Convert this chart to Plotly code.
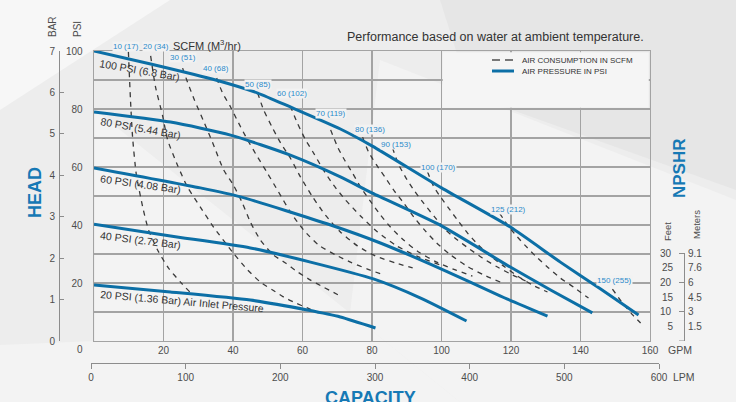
import plotly.graph_objects as go

# ---------------- data ----------------
gpm_tick_values = [20, 40, 60, 80, 100, 120, 140, 160]
psi_tick_values = [20, 40, 60, 80, 100]
bar_tick_values = [0, 1, 2, 3, 4, 5, 6, 7]
lpm_tick_values = [0, 100, 200, 300, 400, 500, 600]
feet_tick_values = [10, 20, 30]
feet_half_values = [5, 15, 25]
npshr_feet_values = [5, 10, 15, 20, 25, 30]
npshr_meter_text = ["1.5", "3", "4.5", "6", "7.6", "9.1"]

# air pressure curves (GPM vs head in PSI)
psi100_gpm = [0, 16.3, 35.0, 47.1, 56.5, 70.9, 80.1, 100.0, 119.8, 134.2, 145.8, 156.7]
psi100_head = [100, 95.5, 90.0, 85.5, 80.7, 73.1, 67.2, 52.8, 39.3, 27.2, 17.9, 9.0]
psi80_gpm = [0, 22.0, 39.3, 56.5, 70.9, 80.1, 100.0, 119.8, 131.4, 143.4]
psi80_head = [79.0, 75.5, 71.0, 64.1, 56.6, 51.0, 39.7, 25.5, 17.6, 9.7]
psi60_gpm = [0, 30.6, 42.2, 68.1, 82.4, 100.0, 117.0, 130.5]
psi60_head = [59.7, 52.8, 49.7, 40.0, 33.8, 24.8, 15.5, 8.6]
psi40_gpm = [0, 22.0, 45.0, 62.3, 80.4, 94.0, 107.2]
psi40_head = [40.3, 36.2, 32.1, 27.2, 21.4, 14.8, 6.9]
psi20_gpm = [0, 22.0, 45.0, 61.4, 70.9, 81.0]
psi20_head = [19.3, 16.9, 14.1, 10.7, 8.3, 4.5]

pressure_names = ["100 PSI (6.8 Bar)", "80 PSI (5.44 Bar)", "60 PSI (4.08 Bar)",
                  "40 PSI (2.72 Bar)", "20 PSI (1.36 Bar) Air Inlet Pressure"]

# air consumption lines (SCFM)
scfm10_gpm = [9.9, 10.5, 11.1, 12.2, 14.2, 15.7, 18.3, 21.4, 24.9, 27.8]
scfm10_head = [99.7, 83.1, 70.3, 57.2, 45.2, 38.3, 31.4, 25.2, 20.3, 16.6]
scfm20_gpm = [16.3, 17.7, 19.7, 21.2, 24.0, 26.9, 30.6, 34.4, 40.1, 44.2, 47.9, 51.4, 54.5, 58.0, 61.4, 64.6]
scfm20_head = [98.3, 87.6, 77.9, 69.3, 60.7, 53.1, 46.2, 39.3, 30.3, 24.5, 20.3, 17.6, 15.2, 13.1, 11.4, 9.7]
scfm30_gpm = [25.5, 26.9, 28.9, 31.4, 34.4, 37.3, 40.1, 42.7, 45.0, 47.9, 51.6, 55.1, 58.6, 62.3, 66.0, 70.9]
scfm30_head = [94.1, 89.3, 83.1, 76.2, 67.6, 59.0, 53.8, 47.6, 41.0, 34.8, 29.7, 26.9, 23.8, 21.0, 18.6, 15.5]
scfm40_gpm = [35.3, 37.0, 39.3, 41.6, 44.2, 47.1, 49.9, 53.1, 56.5, 60.3, 64.6, 69.5, 73.8, 78.7, 83.3]
scfm40_head = [90.7, 85.5, 80.7, 75.2, 69.3, 63.4, 57.9, 51.4, 44.5, 38.3, 33.1, 29.7, 27.2, 24.8, 22.8]
scfm50_gpm = [47.1, 48.8, 51.4, 53.7, 56.5, 59.4, 62.9, 66.6, 70.9, 75.8, 81.0, 86.8, 91.7]
scfm50_head = [85.5, 79.7, 73.4, 68.3, 63.1, 56.6, 49.7, 43.4, 37.6, 32.8, 29.3, 26.9, 25.2]
scfm60_gpm = [56.5, 58.5, 60.9, 63.2, 66.0, 68.9, 72.4, 76.7, 81.6, 87.1, 93.4, 99.7]
scfm60_head = [81.0, 75.2, 69.3, 64.8, 59.0, 53.8, 48.6, 43.1, 37.6, 32.8, 29.0, 26.2]
scfm70_gpm = [68.1, 70.1, 72.1, 74.4, 76.7, 79.3, 82.2, 85.3, 89.1, 93.4, 98.6, 104.0, 108.9]
scfm70_head = [72.8, 66.9, 62.4, 57.9, 53.1, 48.6, 43.8, 39.3, 34.8, 30.7, 27.2, 24.5, 22.4]
scfm80_gpm = [77.3, 79.0, 81.3, 83.9, 86.2, 89.1, 92.0, 95.1, 98.6, 102.6, 107.2, 112.1, 117.0]
scfm80_head = [70.3, 65.2, 60.7, 56.2, 52.1, 47.6, 42.8, 38.3, 33.8, 29.7, 25.9, 22.8, 20.3]
scfm90_gpm = [85.9, 87.6, 89.6, 92.0, 94.8, 98.0, 101.2, 104.6, 108.1, 111.8, 116.1, 120.4, 124.2]
scfm90_head = [66.6, 61.0, 56.6, 52.1, 47.6, 42.8, 38.3, 34.8, 31.7, 28.6, 25.5, 22.8, 20.7]
scfm100_gpm = [96.0, 97.7, 99.7, 102.0, 104.6, 107.5, 110.6, 114.1, 117.8, 121.9, 126.2, 130.5]
scfm100_head = [58.3, 53.4, 49.7, 45.9, 41.7, 37.2, 33.1, 29.3, 25.9, 22.4, 19.3, 16.9]
scfm125_gpm = [116.7, 119.0, 121.3, 124.2, 127.3, 130.8, 134.2, 138.0, 142.3]
scfm125_head = [44.1, 40.0, 36.6, 32.8, 29.0, 25.2, 21.7, 18.6, 14.8]
scfm150_gpm = [149.2, 152.1, 155.0, 157.3]
scfm150_head = [17.9, 13.1, 9.0, 6.2]

scfm_labels = ["10 (17)", "20 (34)", "30 (51)", "40 (68)", "50 (85)", "60 (102)",
               "70 (119)", "80 (136)", "90 (153)", "100 (170)", "125 (212)", "150 (255)"]
# label anchor points (GPM, PSI)
scfm_label_gpm = [9.1, 17.7, 25.5, 35.0, 47.1, 57.1, 68.1, 79.3, 86.8, 99.1, 119.3, 149.8]
scfm_label_psi = [101.7, 101.7, 97.6, 94.1, 88.6, 85.2, 78.6, 72.8, 67.6, 60.0, 45.5, 21.0]

# ---------------- layout helpers ----------------
W, H = 736, 402
ML, MR, MT, MB = 40, 40, 51, 30
PW = W - ML - MR
PH = H - MT - MB
PB = H - MB
X0_PX, X1_PX = 94, 650      # main plot left/right in pixels
Y0_PX, Y1_PX = 341, 51      # main plot bottom/top in pixels
GPM_MAX, PSI_MAX = 160, 100


def px(x, y):
    return (x - ML) / PW, (PB - y) / PH


def data_to_paper(g, p):
    xpix = X0_PX + g / GPM_MAX * (X1_PX - X0_PX)
    ypix = Y0_PX - p / PSI_MAX * (Y0_PX - Y1_PX)
    return px(xpix, ypix)


def dom_x(a, b):
    return [(a - ML) / PW, (b - ML) / PW]


def dom_y(top, bottom):
    return [(PB - bottom) / PH, (PB - top) / PH]


BLUE = "#0c6fa6"
LBLUE = "#2b8bcb"
HBLUE = "#1679b5"
DARK = "#333333"
GRID = "#a3a3a3"
AX = "#8c8c8c"
TXT = "#4d4d4d"
FONT = "Liberation Sans, Arial, sans-serif"

fig = go.Figure()

pressure_series = [(psi100_gpm, psi100_head), (psi80_gpm, psi80_head), (psi60_gpm, psi60_head),
                   (psi40_gpm, psi40_head), (psi20_gpm, psi20_head)]
scfm_series = [(scfm10_gpm, scfm10_head), (scfm20_gpm, scfm20_head), (scfm30_gpm, scfm30_head),
               (scfm40_gpm, scfm40_head), (scfm50_gpm, scfm50_head), (scfm60_gpm, scfm60_head),
               (scfm70_gpm, scfm70_head), (scfm80_gpm, scfm80_head), (scfm90_gpm, scfm90_head),
               (scfm100_gpm, scfm100_head), (scfm125_gpm, scfm125_head), (scfm150_gpm, scfm150_head)]

for gx, gy in scfm_series:
    fig.add_trace(go.Scatter(x=gx, y=gy, mode="lines", showlegend=False, hoverinfo="skip",
                             line=dict(color="#3a3a3a", width=1.3, dash="5px,5px",
                                       shape="spline", smoothing=0.6)))
for gx, gy in pressure_series:
    fig.add_trace(go.Scatter(x=gx, y=gy, mode="lines", showlegend=False, hoverinfo="skip",
                             line=dict(color=BLUE, width=3, shape="spline", smoothing=0.6)))

# dummy traces so the auxiliary axes are drawn
for xa, ya in [("x", "y2"), ("x2", "y3"), ("x2", "y4"), ("x2", "y5")]:
    fig.add_trace(go.Scatter(x=[None], y=[None], xaxis=xa, yaxis=ya, showlegend=False,
                             hoverinfo="skip", mode="lines"))

tickfont = dict(family=FONT, size=10, color=TXT)
common = dict(automargin=False, zeroline=False, showgrid=False, tickfont=tickfont)
gridminor = dict(dtick=10, tick0=0, showgrid=True, gridcolor=GRID, gridwidth=1.3, ticks="")

fig.update_layout(
    width=W, height=H,
    margin=dict(l=ML, r=MR, t=MT, b=MB, pad=0, autoexpand=False),
    paper_bgcolor="#ededed",
    plot_bgcolor="rgba(0,0,0,0)",
    font=dict(family=FONT, color=DARK),
    showlegend=False,
    hovermode=False,
    xaxis=dict(common, domain=dom_x(X0_PX, X1_PX), range=[0, GPM_MAX], anchor="y",
               tickmode="array", tickvals=gpm_tick_values, ticks="",
               showgrid=True, gridcolor=GRID, gridwidth=1.3,
               showline=True, mirror=True, linecolor=GRID, linewidth=1.3),
    yaxis=dict(common, domain=dom_y(Y1_PX, Y0_PX), range=[0, PSI_MAX], anchor="x",
               tickmode="array", tickvals=psi_tick_values, ticks="",
               showgrid=True, gridcolor=GRID, gridwidth=1.3, minor=gridminor,
               showline=True, mirror=True, linecolor=GRID, linewidth=1.3,
               ticklabelstandoff=8),
    yaxis2=dict(common, overlaying="y", anchor="free", position=px(59, 0)[0], side="left",
                range=[0, 7], tickmode="array", tickvals=bar_tick_values,
                ticks="inside", ticklen=4, tickcolor=AX, showline=True, linecolor=AX,
                linewidth=1, ticklabelstandoff=2),
    xaxis2=dict(common, domain=dom_x(91, 659), anchor="free", position=(PB - 363) / PH,
                range=[0, 600], tickmode="array", tickvals=lpm_tick_values,
                ticks="outside", ticklen=5, tickcolor=AX, showline=True, linecolor=AX,
                linewidth=1, side="bottom"),
    yaxis3=dict(common, domain=dom_y(253, 341), anchor="free", position=px(684, 0)[0], side="left",
                range=[0, 30], tickmode="array", tickvals=feet_tick_values,
                ticks="outside", ticklen=5, tickcolor=AX, showline=True, linecolor=AX,
                linewidth=1, ticklabelstandoff=6),
    yaxis4=dict(common, overlaying="y3", anchor="free", position=px(684, 0)[0], side="left",
                range=[0, 30], tickmode="array", tickvals=feet_half_values, ticks="",
                showline=False, ticklabelstandoff=11),
    yaxis5=dict(common, overlaying="y3", anchor="free", position=px(684, 0)[0], side="right",
                range=[0, 30], tickmode="array", tickvals=npshr_feet_values,
                ticktext=npshr_meter_text, ticks="", showline=False, ticklabelstandoff=3),
)

# ---------------- background ----------------
def poly(points, color):
    pts = [px(x, y) for x, y in points]
    path = "M " + " L ".join(f"{a:.4f},{b:.4f}" for a, b in pts) + " Z"
    return dict(type="path", xref="paper", yref="paper", path=path,
                fillcolor=color, line=dict(width=0), layer="below")


shapes = [
    poly([(0, 0), (170, 0), (0, 110)], "#f7f7f7"),
    poly([(95, 110), (350, 313), (460, 402), (0, 402), (0, 345), (95, 341)], "#f3f3f3"),
    poly([(380, 60), (736, 200), (736, 402), (460, 402), (350, 313)], "#f3f3f3"),
    poly([(440, 0), (736, 0), (736, 190), (470, 95)], "#e6e6e6"),
]
# bottom tick of the NPSHR scale (at 0 ft)
xa0, _ = px(679, 0)
xa1, _ = px(684, 0)
shapes.append(dict(type="line", xref="paper", yref="y3", x0=xa0, x1=xa1, y0=0, y1=0,
                   line=dict(color=AX, width=1)))
# legend box
shapes.append(dict(type="rect", xref="x", yref="y", x0=100.35, x1=159.65, y0=80.45, y1=99.6,
                   fillcolor="#f5f5f5", line=dict(width=0), layer="between"))
# legend samples
for a, b in [(492, 500), (505, 513)]:
    x0, y0 = px(a, 60)
    x1, _ = px(b, 60)
    shapes.append(dict(type="line", xref="paper", yref="paper", x0=x0, x1=x1, y0=y0, y1=y0,
                       line=dict(color=DARK, width=1.3)))
x0, y0 = px(492, 71)
x1, _ = px(514, 71)
shapes.append(dict(type="line", xref="paper", yref="paper", x0=x0, x1=x1, y0=y0, y1=y0,
                   line=dict(color=BLUE, width=3)))
fig.update_layout(shapes=shapes)

# ---------------- text ----------------
ann = []


def ptext(x, y, text, size=10, color=DARK, angle=0, bold=False, xanchor="center"):
    ax_, ay_ = px(x, y)
    ann.append(dict(xref="paper", yref="paper", x=ax_, y=ay_, text=f"<b>{text}</b>" if bold else text,
                    showarrow=False, textangle=angle, xanchor=xanchor, yanchor="middle",
                    font=dict(family=FONT, size=size, color=color)))


ptext(495, 37, "Performance based on water at ambient temperature.", 12.5, DARK)
ptext(207, 45, "SCFM (M<sup>3</sup>/hr)", 11, DARK)
ptext(53, 27, "BAR", 10, TXT, -90)
ptext(78, 29, "PSI", 10, TXT, -90)
ptext(35, 193, "HEAD", 18, HBLUE, -90, True)
ptext(679, 168, "NPSHR", 17, HBLUE, -90, True)
ptext(668, 232, "Feet", 9.5, TXT, -90)
ptext(696, 225, "Meters", 9.5, TXT, -90)
ptext(680, 350, "GPM", 10.5, TXT)
ptext(684, 377, "LPM", 10.5, TXT)
ptext(80, 349, "0", 10, TXT)
ptext(371, 397.5, "CAPACITY", 18, HBLUE, 0, True)
ptext(520, 60, "AIR CONSUMPTION IN SCFM", 8, DARK, 0, False, "left")
ptext(520, 71, "AIR PRESSURE IN PSI", 8, DARK, 0, False, "left")

# pressure curve labels
press_label_gpm = [13.1, 13.4, 13.4, 13.4, 25.2]
press_label_psi = [93.4, 73.4, 54.1, 34.8, 13.8]
press_label_angle = [10, 10, 8, 7, 5]
for t, gx, gy, a in zip(pressure_names, press_label_gpm, press_label_psi, press_label_angle):
    ann.append(dict(xref="x", yref="y", x=gx, y=gy, text=t, showarrow=False, textangle=a,
                    xanchor="center", yanchor="middle",
                    font=dict(family=FONT, size=10.5, color=DARK)))

# SCFM labels (placed in paper space so those above the plot top are still shown)
for t, gx, gy in zip(scfm_labels, scfm_label_gpm, scfm_label_psi):
    ax_, ay_ = data_to_paper(gx, gy)
    ann.append(dict(xref="paper", yref="paper", x=ax_, y=ay_, text=t, showarrow=False,
                    xanchor="center", yanchor="middle", bgcolor="#f2f2f2", borderpad=0,
                    font=dict(family=FONT, size=8, color=LBLUE)))

fig.update_layout(annotations=ann)

fig.write_html("out.html", config={"displayModeBar": False, "staticPlot": True},
               post_script="document.body.style.margin='0';document.body.style.padding='0';")
